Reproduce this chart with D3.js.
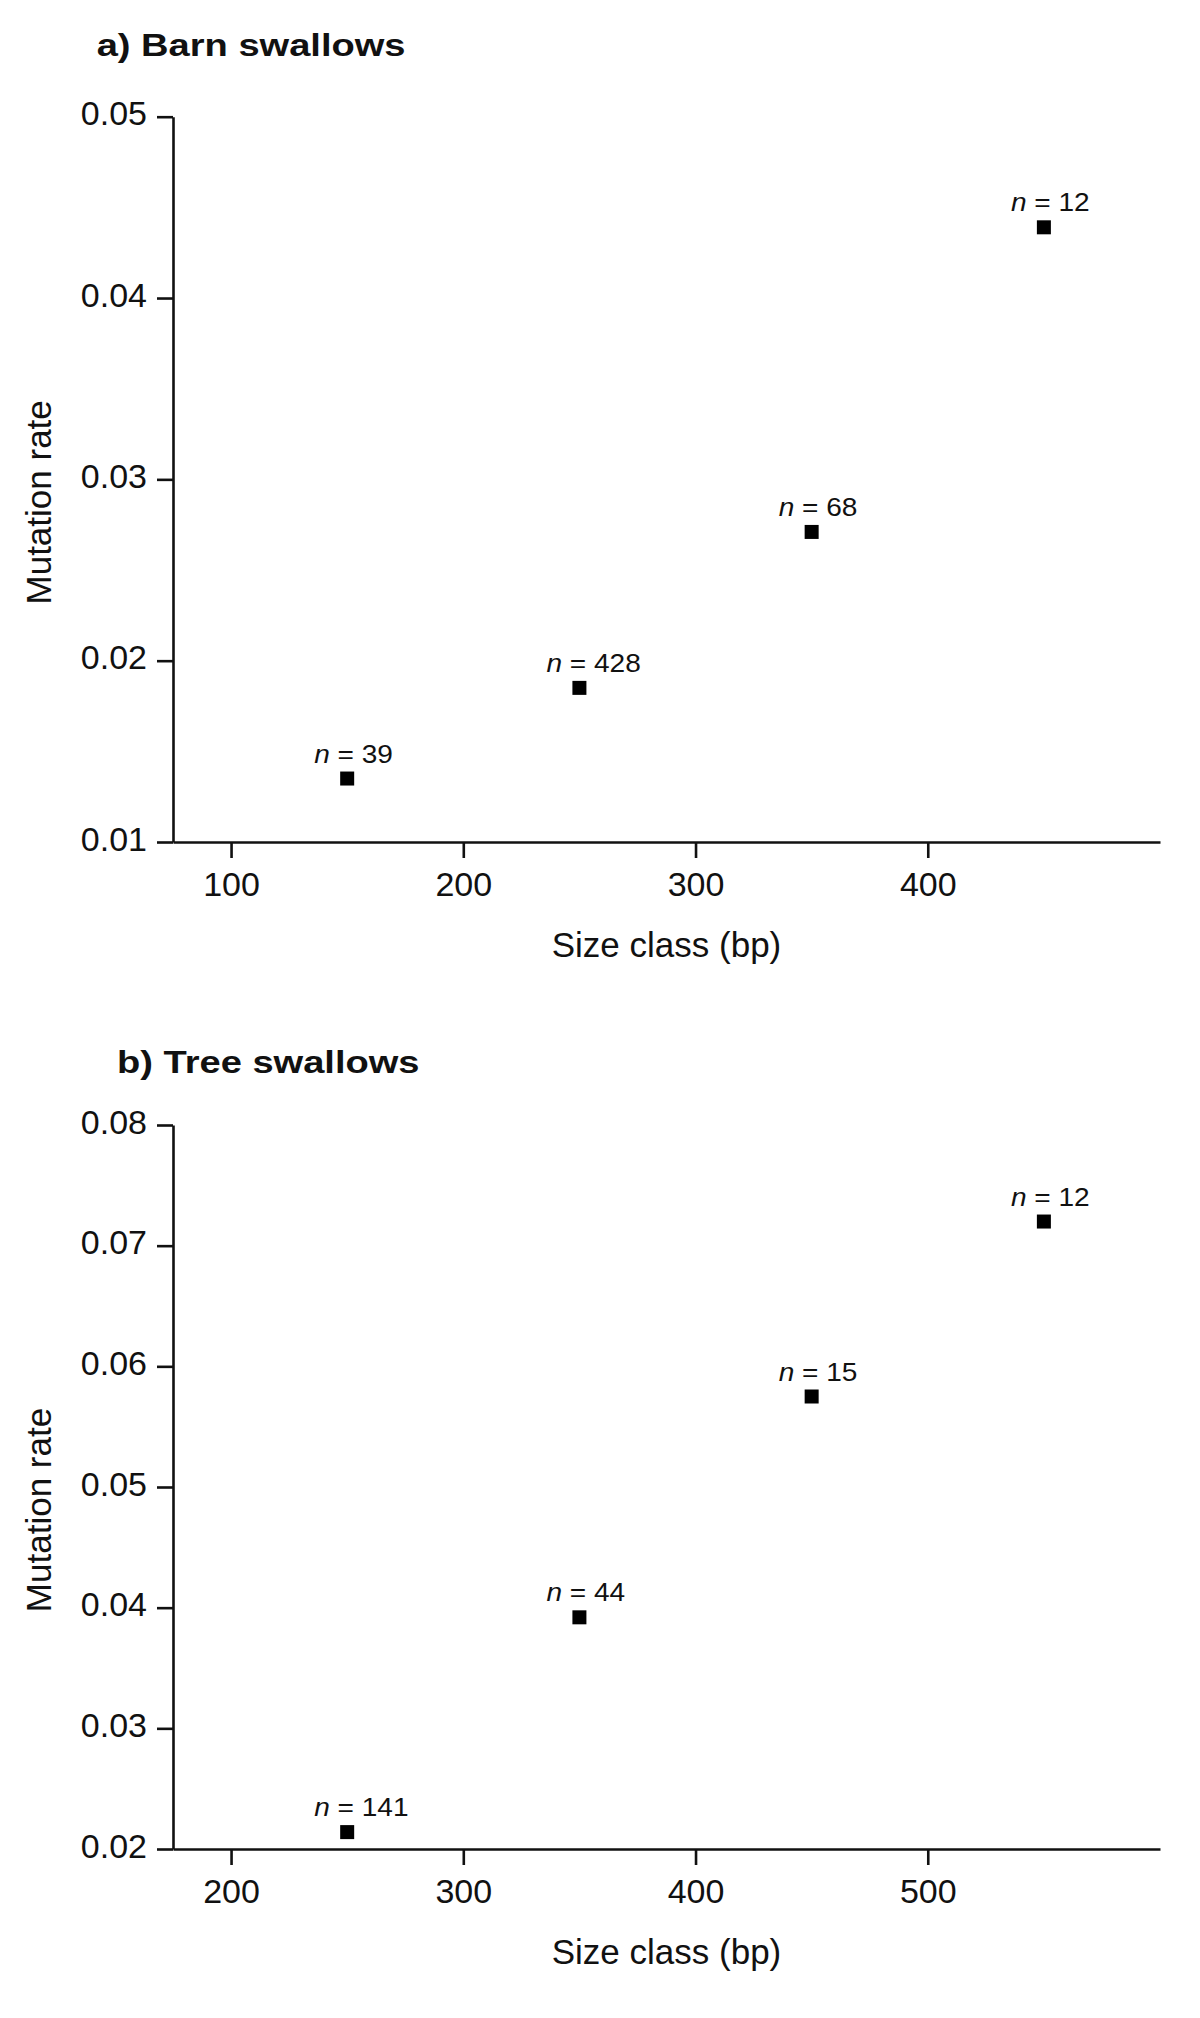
<!DOCTYPE html>
<html>
<head>
<meta charset="utf-8">
<script src="https://cdn.jsdelivr.net/npm/d3@7"></script>
<style>
  html, body { margin: 0; padding: 0; background: #fff; }
  svg { display: block; }
  text { font-family: "Liberation Sans", Arial, Helvetica, sans-serif; fill: #111; }
</style>
</head>
<body>
<svg id="chart" width="1200" height="2018"></svg>
<script>
// ---------- data ----------
const titleA = "a) Barn swallows";
const sizeClassA = [150, 250, 350, 450];
const rateA = [0.0135, 0.0185, 0.0271, 0.0439];
const nA = [39, 428, 68, 12];
const xTicksA = [100, 200, 300, 400];
const yTicksA = [0.01, 0.02, 0.03, 0.04, 0.05];

const titleB = "b) Tree swallows";
const sizeClassB = [250, 350, 450, 550];
const rateB = [0.0214, 0.0392, 0.0575, 0.0720];
const nB = [141, 44, 15, 12];
const xTicksB = [200, 300, 400, 500];
const yTicksB = [0.02, 0.03, 0.04, 0.05, 0.06, 0.07, 0.08];

const xLabel = "Size class (bp)";
const yLabel = "Mutation rate";

// ---------- drawing ----------
const svg = d3.select("#chart");

function panel(cfg) {
  const g = svg.append("g");
  const x = d3.scaleLinear().domain(cfg.xDomain).range([173, 1160]);
  const y = d3.scaleLinear().domain(cfg.yDomain).range([cfg.bottom, cfg.top]);

  // title
  g.append("text")
    .attr("transform", `translate(${cfg.titleX},${cfg.titleY}) scale(1.19,1)`)
    .attr("font-size", 32)
    .attr("font-weight", "bold")
    .text(cfg.title);

  // y axis
  const yAxis = d3.axisLeft(y).tickValues(cfg.yTicks).tickFormat(d3.format(".2f"))
    .tickSize(16).tickSizeOuter(0).tickPadding(10);
  const gy = g.append("g").attr("transform", `translate(173,0)`).call(yAxis);
  gy.selectAll("text").attr("font-size", 34).attr("dy", "0.24em");

  // x axis
  const xAxis = d3.axisBottom(x).tickValues(cfg.xTicks).tickFormat(d3.format("d"))
    .tickSize(16).tickSizeOuter(0).tickPadding(14);
  const gx = g.append("g").attr("transform", `translate(0,${cfg.bottom})`).call(xAxis);
  gx.selectAll("text").attr("font-size", 34).attr("dy", "0.71em");

  [gx, gy].forEach(a => {
    a.selectAll("path, line").attr("stroke", "#111").attr("stroke-width", 2.6);
    a.selectAll("text").attr("fill", "#111").attr("font-family", '"Liberation Sans", Arial, sans-serif');
  });

  // axis labels
  g.append("text")
    .attr("x", (173 + 1160) / 2)
    .attr("y", cfg.bottom + 115)
    .attr("text-anchor", "middle")
    .attr("font-size", 35)
    .text(xLabel);

  g.append("text")
    .attr("transform", `translate(51,${(cfg.top + cfg.bottom) / 2 + 23}) rotate(-90)`)
    .attr("text-anchor", "middle")
    .attr("font-size", 35)
    .text(yLabel);

  // points
  const data = cfg.xs.map((v, i) => ({ x: v, y: cfg.ys[i], n: cfg.ns[i] }));
  const s = 14;
  g.selectAll("rect.pt").data(data).enter().append("rect")
    .attr("class", "pt")
    .attr("x", d => x(d.x) - s / 2)
    .attr("y", d => y(d.y) - s / 2)
    .attr("width", s).attr("height", s)
    .attr("fill", "#000");

  // n labels
  const lab = g.selectAll("text.nl").data(data).enter().append("text")
    .attr("class", "nl")
    .attr("transform", d => `translate(${x(d.x) - 33},${y(d.y) - 16}) scale(1.1,1)`)
    .attr("font-size", 25.5);
  lab.append("tspan").attr("font-style", "italic").text("n");
  lab.append("tspan").text(d => " = " + d.n);
}

panel({
  title: titleA, titleX: 96.7, titleY: 56,
  xDomain: [75, 500], yDomain: [0.01, 0.05], top: 116.7, bottom: 842,
  xTicks: xTicksA, yTicks: yTicksA,
  xs: sizeClassA, ys: rateA, ns: nA
});

panel({
  title: titleB, titleX: 117, titleY: 1073,
  xDomain: [175, 600], yDomain: [0.02, 0.08], top: 1125, bottom: 1849,
  xTicks: xTicksB, yTicks: yTicksB,
  xs: sizeClassB, ys: rateB, ns: nB
});
</script>
</body>
</html>
